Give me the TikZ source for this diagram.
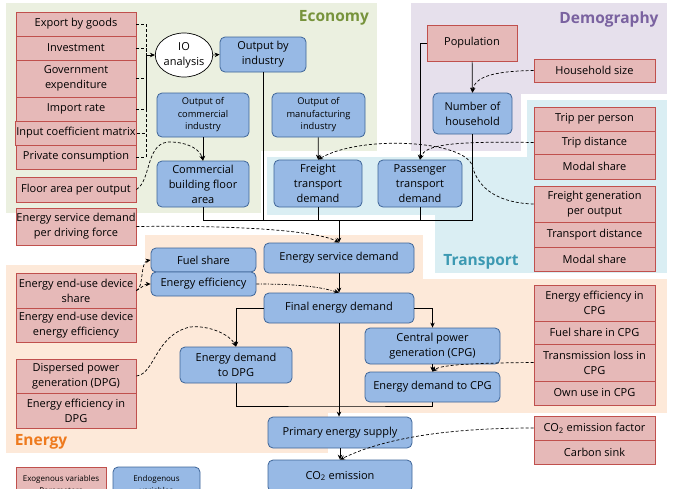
\documentclass[tikz,border=0pt]{standalone}
\usepackage{fontspec}
\setmainfont{Open Sans}
\usetikzlibrary{arrows.meta,shapes.geometric}
\definecolor{exofill}{HTML}{E6B9B8}
\definecolor{exoline}{HTML}{C0504D}
\definecolor{endofill}{HTML}{97B9E5}
\definecolor{endoline}{HTML}{3E6598}
\definecolor{ecofill}{HTML}{EBF0E0}
\definecolor{demofill}{HTML}{E6E0EC}
\definecolor{trafill}{HTML}{DAEEF3}
\definecolor{enefill}{HTML}{FDE9D9}
\definecolor{ecotext}{HTML}{77933C}
\definecolor{demotext}{HTML}{7A62A0}
\definecolor{tratext}{HTML}{3C99B2}
\definecolor{enetext}{HTML}{EE7A1E}
\tikzset{
  boxfont/.style={font=\fontsize{11}{15}\selectfont},
  smallfont/.style={font=\fontsize{9.3}{12.5}\selectfont},
  exo/.style={draw=exoline,fill=exofill,line width=0.8pt,inner sep=0.5pt,align=center,boxfont},
  endo/.style={draw=endoline,fill=endofill,rounded corners=5pt,line width=0.8pt,inner sep=1pt,align=center,boxfont},
  sector/.style={font=\fontsize{15.5}{18}\selectfont\bfseries},
  link/.style={line width=0.7pt,-{Stealth[length=5pt,width=4.5pt]}},
  dashline/.style={line width=0.7pt,dash pattern=on 3pt off 2pt},
  param/.style={link,dash pattern=on 3pt off 2pt},
}
\begin{document}
\begin{tikzpicture}[x=1pt,y=-1pt]
    \useasboundingbox (0,0) rectangle (675,488);
    \clip (0,0) rectangle (675,488);
    %% sectors
    \fill[ecofill] (6,3) rectangle (377,213);
    \fill[demofill] (411,3) rectangle (667,152);
    \path[fill=trafill,draw=white,line width=6pt] (264,154) -- (524,154) -- (524,97) -- (670,97) -- (670,277) -- (432,277) -- (432,218) -- (264,218) -- cycle;
    \path[fill=enefill,draw=white,line width=6pt] (3,262) -- (142,262) -- (142,232) -- (426,232) -- (426,276) -- (670,276) -- (670,416) -- (331,416) -- (331,456) -- (3,456) -- cycle;
    \node[sector,text=ecotext] (ecolabel) at (334,18) {Economy};
    \node[sector,text=demotext] (demolabel) at (609,19) {Demography};
    \node[sector,text=tratext] (tralabel) at (481,262) {Transport};
    \node[sector,text=enetext] (enelabel) at (41,442) {Energy};
    %% economy
    \node[exo,minimum width=120pt,minimum height=24pt] (exp) at (76,24) {Export by goods};
    \node[exo,minimum width=120pt,minimum height=24pt] (inv) at (76,48) {Investment};
    \node[exo,minimum width=120pt,minimum height=37pt] (gov) at (76,78.5) {Government\\expenditure};
    \node[exo,minimum width=120pt,minimum height=24pt] (imp) at (76,109) {Import rate};
    \node[exo,minimum width=120pt,minimum height=24pt] (inp) at (76,133) {Input coefficient matrix};
    \node[exo,minimum width=120pt,minimum height=24pt] (pri) at (76,157) {Private consumption};
    \node[exo,minimum width=120pt,minimum height=25pt] (flo) at (76,189.5) {Floor area per output};
    \node[exo,minimum width=120pt,minimum height=37pt] (drv) at (76,226.5) {Energy service demand\\per driving force};
    \node[ellipse,draw,fill=white,line width=0.7pt,inner sep=0pt,minimum width=54pt,minimum height=44pt,align=center,boxfont] (io) at (184,55) {IO\\analysis};
    \node[endo,minimum width=86pt,minimum height=35pt] (out) at (263,54.5) {Output by\\industry};
    \node[endo,smallfont,minimum width=92pt,minimum height=44pt] (outcom) at (203,115) {Output of\\commercial\\industry};
    \node[endo,minimum width=92pt,minimum height=46pt] (cbfa) at (203,184) {Commercial\\building floor\\area};
    \node[endo,smallfont,minimum width=93pt,minimum height=44pt] (outman) at (318.5,115) {Output of\\manufacturing\\industry};
    %% demography
    \node[exo,minimum width=90pt,minimum height=36pt] (pop) at (472,43) {Population};
    \node[exo,minimum width=121pt,minimum height=23pt] (hhs) at (594.5,70.5) {Household size};
    \node[endo,minimum width=79pt,minimum height=41pt] (nhh) at (472.5,113.5) {Number of\\household};
    %% transport
    \node[endo,minimum width=88pt,minimum height=47pt] (frt) at (318,183.5) {Freight\\transport\\demand};
    \node[endo,minimum width=84pt,minimum height=47pt] (pas) at (420,183.5) {Passenger\\transport\\demand};
    \node[exo,minimum width=121pt,minimum height=24pt] (tpp) at (594.5,119) {Trip per person};
    \node[exo,minimum width=121pt,minimum height=23pt] (tds) at (594.5,142.5) {Trip distance};
    \node[exo,minimum width=121pt,minimum height=25pt] (pms) at (594.5,166.5) {Modal share};
    \node[exo,minimum width=121pt,minimum height=36pt] (fgo) at (594.5,204) {Freight generation\\per output};
    \node[exo,minimum width=121pt,minimum height=25pt] (trd) at (594.5,234.5) {Transport distance};
    \node[exo,minimum width=121pt,minimum height=24pt] (fms) at (594.5,259) {Modal share};
    %% energy
    \node[exo,minimum width=120pt,minimum height=35pt] (edsh) at (76,290.5) {Energy end-use device\\share};
    \node[exo,minimum width=120pt,minimum height=34pt] (edee) at (76,325) {Energy end-use device\\energy efficiency};
    \node[exo,minimum width=120pt,minimum height=34pt] (dpgp) at (76,376) {Dispersed power\\generation (DPG)};
    \node[exo,minimum width=120pt,minimum height=35pt] (eedpg) at (76,410.5) {Energy efficiency in\\DPG};
    \node[endo,minimum width=105pt,minimum height=24pt] (fsh) at (203.5,260) {Fuel share};
    \node[endo,minimum width=105pt,minimum height=24pt] (eef) at (203.5,284) {Energy efficiency};
    \node[endo,minimum width=150pt,minimum height=30pt] (esd) at (339,258) {Energy service demand};
    \node[endo,minimum width=150pt,minimum height=30pt] (fed) at (339,308) {Final energy demand};
    \node[endo,minimum width=112pt,minimum height=36pt] (eddpg) at (236,365) {Energy demand\\to DPG};
    \node[endo,minimum width=135pt,minimum height=36pt] (cpg) at (432.5,346) {Central power\\generation (CPG)};
    \node[endo,minimum width=135pt,minimum height=30pt] (edcpg) at (432.5,387) {Energy demand to CPG};
    \node[exo,minimum width=121pt,minimum height=36pt] (eecpg) at (594.5,303) {Energy efficiency in\\CPG};
    \node[exo,minimum width=121pt,minimum height=23pt] (fscpg) at (594.5,332.5) {Fuel share in CPG};
    \node[exo,minimum width=121pt,minimum height=37pt] (tlcpg) at (594.5,362.5) {Transmission loss in\\CPG};
    \node[exo,minimum width=121pt,minimum height=24pt] (oucpg) at (594.5,393) {Own use in CPG};
    %% emission
    \node[endo,minimum width=144pt,minimum height=31pt] (pes) at (340,432.5) {Primary energy supply};
    \node[endo,minimum width=144pt,minimum height=32pt] (co2) at (340,476) {CO\textsubscript{2} emission};
    \node[exo,minimum width=121pt,minimum height=24pt] (co2f) at (594.5,428) {CO\textsubscript{2} emission factor};
    \node[exo,minimum width=121pt,minimum height=24pt] (csink) at (594.5,452) {Carbon sink};
    %% legend
    \node[exo,font=\fontsize{8}{12}\selectfont,minimum width=90pt,minimum height=34pt] (legexo) at (61,484) {Exogenous variables\\Parameters};
    \node[endo,font=\fontsize{8}{12}\selectfont,minimum width=87pt,minimum height=34pt] (legendo) at (156.5,484) {Endogenous\\variables};
    %% economy links
    \coordinate (iojoin) at (146,55);
    \foreach \n in {exp,inv,gov,imp,inp,pri}
        \draw[dashline] (\n.east) -| (iojoin);
    \draw[link] (iojoin) -- (io.west);
    \draw[link] (io.east) -- (out.west);
    \draw[link] (outcom) -- (cbfa);
    \draw[link] (outman) -- (frt);
    \draw[param] (flo.east) .. controls (152,180) and (145,140) .. (172,142) .. controls (190,143) and (200,150) .. (cbfa.north);
    %% demography links
    \draw[link] (pop) -- (nhh);
    \draw[link] (pop.west) -| (pas.north);
    \draw[param] (hhs.west) .. controls (500,71) and (475,75) .. (nhh.north);
    %% transport links
    \draw[param] (tds.west) .. controls (450,141) and (425,145) .. (pas.north);
    \draw[param] (fgo.west) .. controls (500,203) and (478,190) .. (472,165) .. controls (462,140) and (360,135) .. (frt.north);
    %% to energy service demand
    \coordinate (bus) at (339,220);
    \draw[line width=0.7pt] (cbfa.south) |- (bus);
    \draw[line width=0.7pt] (nhh.south) |- (bus);
    \draw[line width=0.7pt] (frt.south) -- (frt.south |- bus);
    \draw[line width=0.7pt] (pas.south) -- (pas.south |- bus);
    \draw[line width=0.7pt] (out.south) -- (out.south |- bus);
    \draw[link] (bus) -- (esd.north);
    \draw[param] (drv.east) .. controls (250,225) and (320,232) .. (esd.north);
    %% energy links
    \draw[link] (esd) -- (fed);
    \draw[param] (edsh.east) .. controls (144,288) and (140,262) .. (fsh.west);
    \draw[param] (edsh.east) .. controls (142,288) and (144,284) .. (eef.west);
    \draw[link,dash pattern=on 3pt off 1.5pt on 1pt off 1.5pt] (eef.east) .. controls (300,284) and (320,287) .. (fed.north);
    \draw[link] (fed.west) -| (eddpg.north);
    \draw[link] (fed.east) -| (cpg.north);
    \draw[param] (dpgp.east) .. controls (155,374) and (155,335) .. (190,327) .. controls (210,325) and (230,335) .. (eddpg.north);
    \draw[link] (cpg) -- (edcpg);
    \draw[param] (tlcpg.west) .. controls (470,363) and (440,365) .. (edcpg.north);
    \coordinate (bus2) at (339,406);
    \draw[line width=0.7pt] (eddpg.south) |- (bus2) -| (edcpg.south);
    \draw[link] (fed.south) -- (pes.north -| fed.south);
    \draw[link] (pes) -- (co2);
    \draw[param] (co2f.west) .. controls (440,428) and (380,440) .. (co2.north);
\end{tikzpicture}
\end{document}
